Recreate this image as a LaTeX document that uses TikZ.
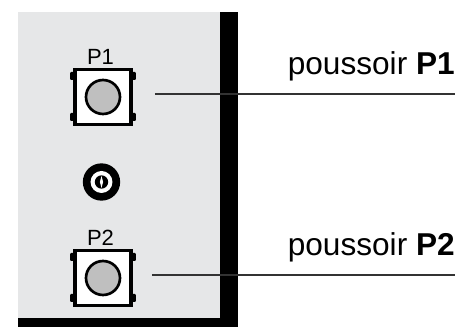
\documentclass[tikz,border=0pt]{standalone}
\usepackage{fontspec}
\setmainfont{Liberation Sans}
\usetikzlibrary{positioning}
\definecolor{panelgray}{HTML}{E6E7E8}
\tikzset{
	btnbox/.style={draw,line width=2.6pt,fill=white,minimum width=42pt,minimum height=41.5pt,inner sep=0pt},
	btnknob/.style={circle,draw,line width=2pt,fill=black!25,minimum size=25.5pt,inner sep=0pt},
	btntab/.style={fill=black,rounded corners=0.8pt,minimum width=3.6pt,minimum height=6pt,inner sep=0pt},
	btnname/.style={font=\fontsize{16.5}{16.5}\selectfont,inner sep=0pt,anchor=base},
	callout/.style={font=\fontsize{23.7}{23.7}\selectfont,inner sep=0pt,anchor=base east},
	leader/.style={line width=1pt,black!80}
}
\begin{document}
\begin{tikzpicture}[x=0.75pt,y=-0.75pt]
	\useasboundingbox (0,0) rectangle (455,327);

% face avant
	\fill[panelgray] (18,12) rectangle (220,319);
	\fill[black] (220,12) rectangle (238,327);
	\fill[black] (18,318.5) rectangle (238,327);

% poussoirs
	\foreach \name/\yy/\txt in {A/97/P1, B/278/P2} {
		\foreach \px in {72.5, 133.5}
			\foreach \dy in {-21, 20}
				\node[btntab] at (\px,\yy+\dy) {};
		\node[btnbox] (box\name) at (103,\yy) {};
		\node[btnknob] (knob\name) at (103,\yy) {};
		\node[btnname] (name\name) at (100.5,\yy-32.5) {\txt};
	}

% vis
	\node[circle,fill=black,minimum size=28pt,inner sep=0pt] (screw) at (101.5,182) {};
	\node[circle,fill=white,minimum size=16.5pt,inner sep=0pt] (screwin) at (screw) {};
	\node[circle,fill=black,minimum size=10pt,inner sep=0pt] (screwcore) at (screw) {};
	\fill[white] (screw.center) ++(0,-6) -- ++(1.6,6) -- ++(-1.6,6) -- ++(-1.6,-6) -- cycle;

% renvois
	\coordinate (startA) at (155,94);
	\coordinate (endA) at (455,94);
	\coordinate (startB) at (152,275);
	\coordinate (endB) at (455,275);
	\draw[leader] (startA) -- (endA);
	\draw[leader] (startB) -- (endB);
	\node[callout] (textA) at (455,75) {poussoir \textbf{P1}};
	\node[callout] (textB) at (455,256) {poussoir \textbf{P2}};
\end{tikzpicture}
\end{document}
